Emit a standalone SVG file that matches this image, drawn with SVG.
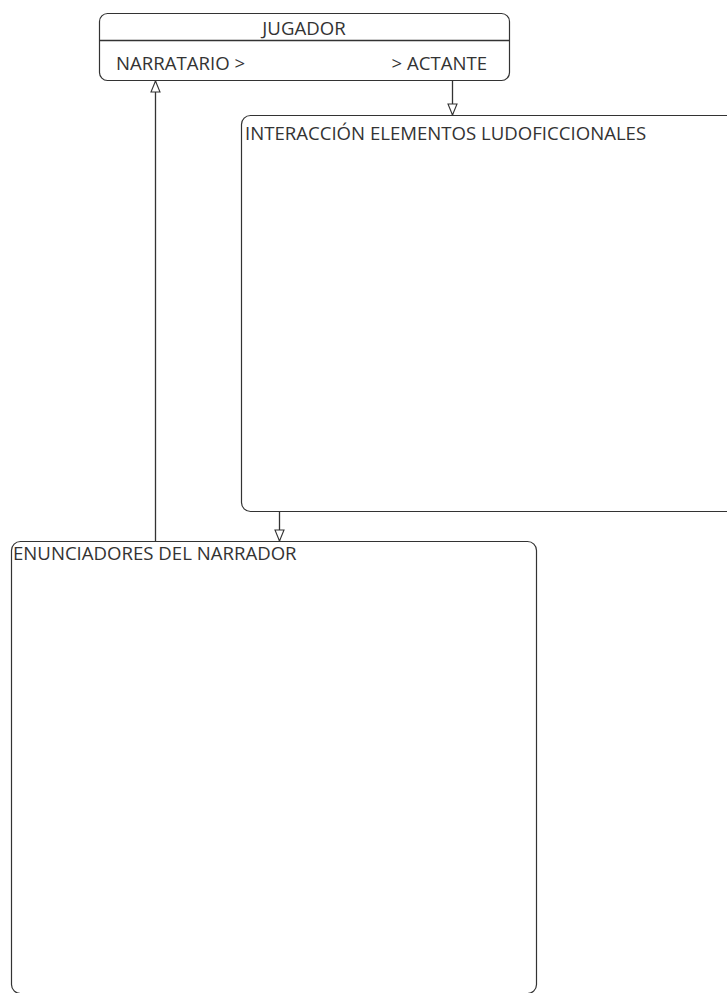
<svg xmlns="http://www.w3.org/2000/svg" width="727" height="993" viewBox="0 0 727 993">
<defs>
<style>
.box{fill:#fff;stroke:#333;stroke-width:1.2}
.t{font-family:"Open Sans","Noto Sans",sans-serif;font-size:18.6px;fill:#333}
.c{fill:none;stroke:#333;stroke-width:1.3}
</style>
<marker id="tri" viewBox="0 0 13 11" refX="12" refY="5.5" markerWidth="13" markerHeight="11" markerUnits="userSpaceOnUse" orient="auto">
<path d="M1,1 L12,5.5 L1,10 Z" fill="#fff" stroke="#333" stroke-width="1.1"/>
</marker>
</defs>
<rect width="727" height="993" fill="#fff"/>
<g id="jugador">
<rect class="box" x="99.5" y="13.5" width="410" height="67" rx="8"/>
<line class="c" x1="99.5" y1="40.5" x2="509.5" y2="40.5"/>
<text class="t" x="304" y="35" text-anchor="middle">JUGADOR</text>
<text class="t" x="116" y="70">NARRATARIO &gt;</text>
<text class="t" x="487" y="70" text-anchor="end">&gt; ACTANTE</text>
</g>
<g id="interaccion">
<rect class="box" x="241.5" y="115.5" width="500" height="396" rx="9"/>
<text class="t" x="245" y="140">INTERACCIÓN ELEMENTOS LUDOFICCIONALES</text>
</g>
<g id="enunciadores">
<rect class="box" x="11.5" y="541.5" width="525" height="452" rx="9"/>
<text class="t" x="13" y="560">ENUNCIADORES DEL NARRADOR</text>
</g>
<g id="connectors">
<line class="c" x1="452.5" y1="80.5" x2="452.5" y2="115" marker-end="url(#tri)"/>
<line class="c" x1="279.5" y1="511.5" x2="279.5" y2="541" marker-end="url(#tri)"/>
<line class="c" x1="155.5" y1="541.5" x2="155.5" y2="81" marker-end="url(#tri)"/>
</g>
</svg>
